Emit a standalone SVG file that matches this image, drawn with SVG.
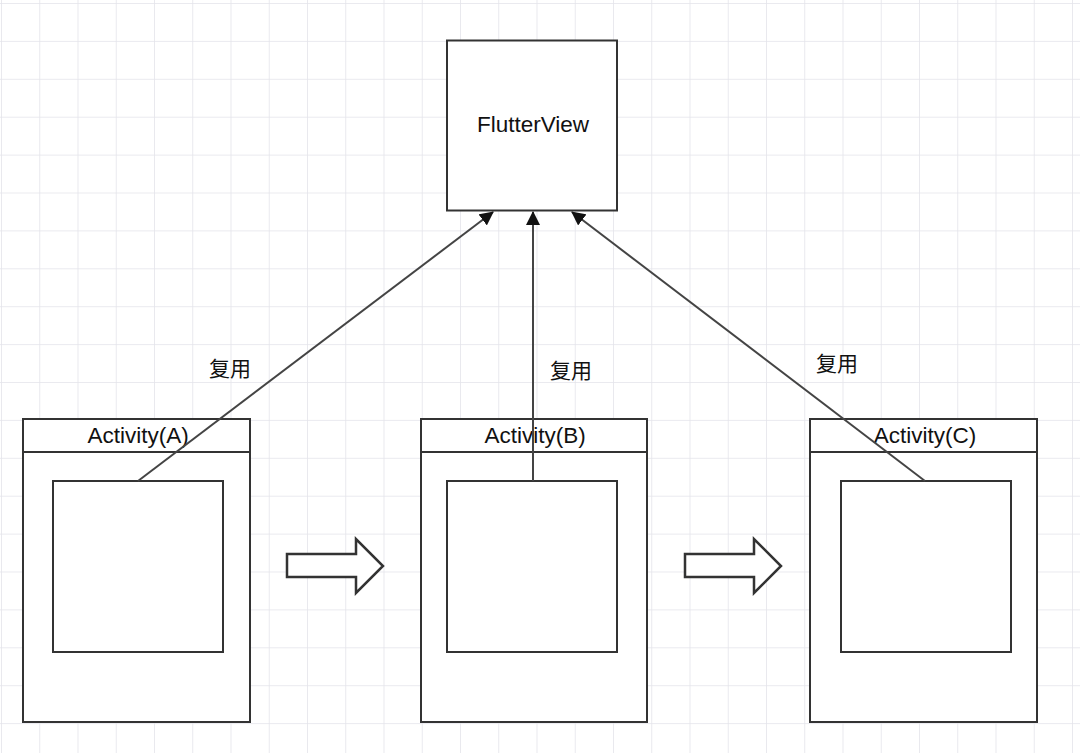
<svg xmlns="http://www.w3.org/2000/svg" width="1080" height="753" viewBox="0 0 1080 753">
<defs>
<pattern id="grid" x="1" y="3" width="38.25" height="37.9" patternUnits="userSpaceOnUse">
<path d="M0 0V37.9M0 0H38.25" fill="none" stroke="#e4e4ea" stroke-width="1.6"/>
</pattern>
<marker id="ah" viewBox="0 0 14 14" refX="13" refY="7" markerWidth="14" markerHeight="14" markerUnits="userSpaceOnUse" orient="auto">
<path d="M0 0L14 7L0 14Z" fill="#111"/>
</marker>
<style>
.box{fill:#fff;stroke:#333;stroke-width:2}
.lbl{font-family:"Liberation Sans",Arial,sans-serif;font-size:22.5px;fill:#111;text-anchor:middle}
.cn{font-family:"Noto Sans CJK SC","Liberation Sans",sans-serif;font-size:21px;fill:#111;text-anchor:middle}
.conn{stroke:#444;stroke-width:2;fill:none}
.barrow{fill:#fff;stroke:#333;stroke-width:2.5;stroke-linejoin:miter}
</style>
</defs>
<rect width="1080" height="753" fill="#fff"/>
<rect width="1080" height="753" fill="url(#grid)"/>
<g id="flutterview">
<rect class="box" x="447" y="40.5" width="170" height="170"/>
<text class="lbl" x="533" y="132">FlutterView</text>
</g>
<g id="activityA">
<rect class="box" x="23" y="419" width="227" height="303"/>
<line class="box" x1="23" y1="452" x2="250" y2="452"/>
<text class="lbl" x="138" y="443">Activity(A)</text>
<rect class="box" x="53" y="481" width="170" height="171"/>
</g>
<g id="activityB">
<rect class="box" x="421" y="419" width="226" height="303"/>
<line class="box" x1="421" y1="452" x2="647" y2="452"/>
<text class="lbl" x="535" y="443">Activity(B)</text>
<rect class="box" x="447" y="481" width="170" height="171"/>
</g>
<g id="activityC">
<rect class="box" x="810" y="419" width="227" height="303"/>
<line class="box" x1="810" y1="452" x2="1037" y2="452"/>
<text class="lbl" x="925" y="443">Activity(C)</text>
<rect class="box" x="841" y="481" width="170" height="171"/>
</g>
<g id="connectors">
<line class="conn" x1="138" y1="481" x2="493" y2="212" marker-end="url(#ah)"/>
<line class="conn" x1="533" y1="481" x2="533" y2="212" marker-end="url(#ah)"/>
<line class="conn" x1="925" y1="481" x2="572" y2="212" marker-end="url(#ah)"/>
<text class="cn" x="230" y="376">复用</text>
<text class="cn" x="571" y="378">复用</text>
<text class="cn" x="837" y="371">复用</text>
</g>
<g id="flow-arrows">
<path class="barrow" d="M287 554H356V539L383 566L356 593V577H287Z"/>
<path class="barrow" d="M685 554H754V539L781 566L754 593V577H685Z"/>
</g>
</svg>
